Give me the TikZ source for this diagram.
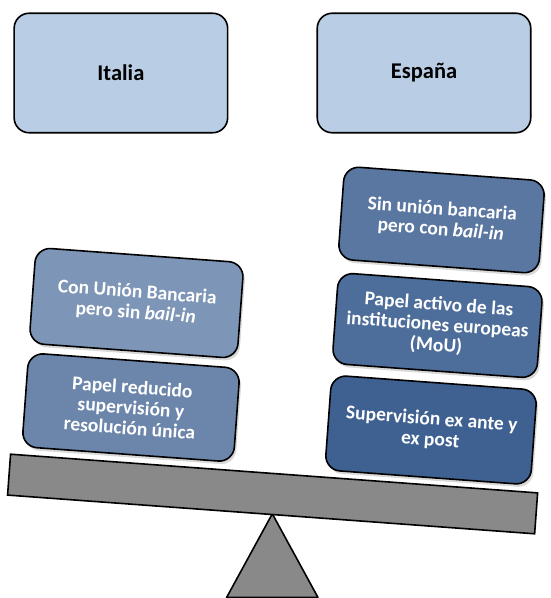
\documentclass[tikz,border=0pt]{standalone}
\usepackage{fontspec}
\setmainfont{Carlito}
\usetikzlibrary{shadows}
\definecolor{topfill}{HTML}{B9CDE4}
\definecolor{cA}{HTML}{7D95B6}
\definecolor{cB}{HTML}{6C86AB}
\definecolor{cC}{HTML}{5A77A1}
\definecolor{cD}{HTML}{4D6D9A}
\definecolor{cE}{HTML}{3E6191}
\definecolor{beamgray}{HTML}{898989}
\tikzset{
  countrybox/.style={draw=black, line width=1.6pt, fill=topfill, rounded corners=15pt,
    minimum width=213.5pt, minimum height=119.5pt,
    font=\bfseries\fontsize{22.5}{26}\selectfont, text=black},
  stackbox/.style={draw=black, line width=1.6pt, rounded corners=15pt, rotate=-4.2,
    align=center, text=white, inner sep=2pt,
    font=\bfseries\fontsize{19.5}{20.5}\selectfont,
    drop shadow={shadow xshift=2pt, shadow yshift=-3pt, opacity=0.3}},
  beamstyle/.style={draw=black, line width=1.6pt, fill=beamgray, rotate=-4.2,
    minimum width=528.5pt, minimum height=41pt, inner sep=0pt},
  fulcrum/.style={draw=black, line width=1.6pt, fill=beamgray, line join=round}
}
\begin{document}
\begin{tikzpicture}[x=1pt, y=1pt]
\useasboundingbox (0,0) rectangle (551,598);
% top country labels
\node[countrybox] (italia) at (120.9,525) {Italia};
\node[countrybox] (espana) at (424,525) {España};
% fulcrum and beam
\coordinate (apex) at (272.3,84.2);
\coordinate (bl) at (226.6,0.5);
\coordinate (br) at (318,0.5);
\path[fulcrum] (apex) -- (bl) -- (br) -- cycle;
\node[beamstyle] (beam) at (272.6,104) {};
% left stack (Italia)
\node[stackbox, fill=cA, minimum width=208.5pt, minimum height=96pt] (itA) at (136.5,295)
  {Con Unión Bancaria\\pero sin \textit{bail-in}};
\node[stackbox, fill=cB, minimum width=212pt, minimum height=94pt] (itB) at (131,190.5)
  {Papel reducido\\supervisión y\\resolución única};
% right stack (España)
\node[stackbox, fill=cC, minimum width=201pt, minimum height=93pt] (esA) at (441.5,378)
  {Sin unión bancaria\\pero con \textit{bail-in}};
\node[stackbox, fill=cD, minimum width=205pt, minimum height=91pt] (esB) at (437.5,272.5)
  {Papel activo de las\\instituciones europeas\\(MoU)};
\node[stackbox, fill=cE, minimum width=206pt, minimum height=95pt] (esC) at (431,168)
  {Supervisión ex ante y\\ex post};
\end{tikzpicture}
\end{document}
